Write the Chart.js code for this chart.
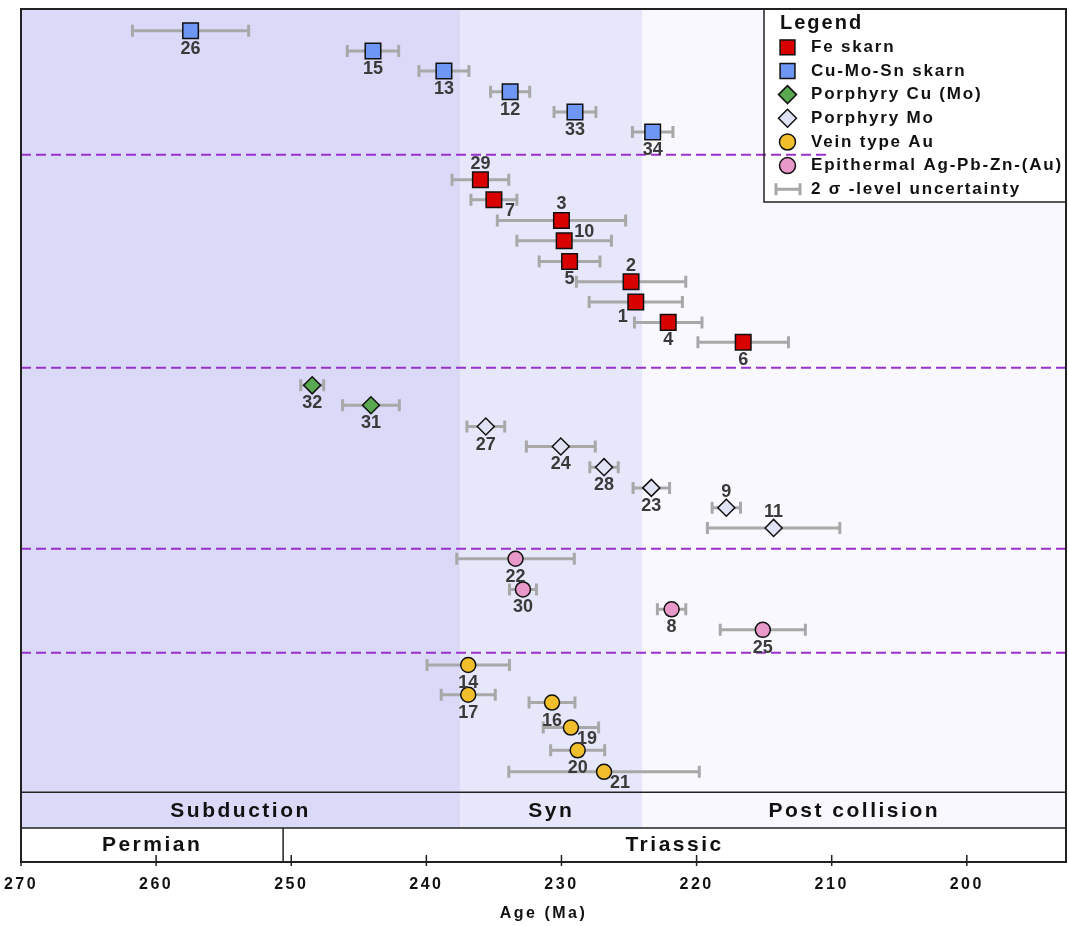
<!DOCTYPE html>
<html>
<head>
<meta charset="utf-8">
<title>Mineralization ages</title>
<script src="https://cdn.jsdelivr.net/npm/chart.js@4.4.1/dist/chart.umd.min.js"></script>
<style>
  body { margin: 0; background: #fff; }
  #wrap { width: 1069px; height: 926px; }
</style>
</head>
<body>
<div id="wrap"><canvas id="ageChart"></canvas></div>
<script>
// sample no., age (Ma), 2 sigma error, row (top -> bottom order)
const feSkarnIds  = [29, 7, 3, 10, 5, 2, 1, 4, 6];
const feSkarnAges = [236.0, 235.0, 230.0, 229.8, 229.4, 224.85, 224.5, 222.1, 216.55];
const feSkarnErrs = [2.1, 1.7, 4.75, 3.5, 2.25, 4.05, 3.45, 2.5, 3.35];
const feSkarnRows = [8.41, 9.39, 10.41, 11.41, 12.43, 13.43, 14.43, 15.43, 16.41];

const cuSkarnIds  = [26, 15, 13, 12, 33, 34];
const cuSkarnAges = [257.45, 243.95, 238.7, 233.8, 229.0, 223.25];
const cuSkarnErrs = [4.3, 1.9, 1.85, 1.45, 1.55, 1.5];
const cuSkarnRows = [1.07, 2.07, 3.05, 4.07, 5.07, 6.06];

const porCuIds  = [32, 31];
const porCuAges = [248.45, 244.1];
const porCuErrs = [0.85, 2.1];
const porCuRows = [18.53, 19.51];

const porMoIds  = [27, 24, 28, 23, 9, 11];
const porMoAges = [235.6, 230.05, 226.85, 223.35, 217.8, 214.3];
const porMoErrs = [1.4, 2.55, 1.05, 1.35, 1.05, 4.9];
const porMoRows = [20.56, 21.54, 22.56, 23.58, 24.56, 25.55];

const veinIds  = [14, 17, 16, 19, 20, 21];
const veinAges = [236.9, 236.9, 230.7, 229.3, 228.8, 226.85];
const veinErrs = [3.05, 2.0, 1.7, 2.05, 2.0, 7.05];
const veinRows = [32.3, 33.76, 34.15, 35.38, 36.5, 37.56];

const epiIds  = [22, 30, 8, 25];
const epiAges = [233.4, 232.85, 221.85, 215.1];
const epiErrs = [4.35, 1.0, 1.05, 3.15];
const epiRows = [27.07, 28.58, 29.56, 30.57];

const tickAges = [270, 260, 250, 240, 230, 220, 210, 200];
const ageMin = 192.66, ageMax = 270;

const stageNames  = ['Subduction', 'Syn', 'Post collision'];
const stageStarts = [270, 237.5, 224.0];
const periodNames  = ['Permian', 'Triassic'];
const periodStarts = [270, 250.6];

// dashed separators between deposit groups (row) and where each one stops (age)
const groupBreaks    = [7.18, 17.67, 26.58, 31.7];
const groupBreakEnds = [210.3, ageMin, ageMin, ageMin];

const rowMax = 42;
const stageRowTop = 38.56, periodRowTop = 40.33;

const FONT = '"Liberation Sans", Arial, sans-serif';
const stageFill = ['#dadaf8', '#e7e7fb', '#f8f8fe'];

// where the sample number sits relative to its marker (default below)
const labelSide = {29: 't', 3: 't', 2: 't', 9: 't', 11: 't', 7: 'br', 19: 'br', 21: 'br', 10: 'tr', 1: 'bl'};
const sideOffset = {b: [0, 18], t: [0, -16], br: [16, 11], tr: [20, -9], bl: [-13, 15]};

function makeSet(label, ids, ages, errs, rows, style, color, radius, legendRadius) {
  return {
    label: label,
    data: ids.map((id, i) => ({x: ages[i], y: rows[i], id: id, err: errs[i]})),
    pointStyle: style,
    pointRadius: radius,
    pointHoverRadius: radius,
    backgroundColor: color,
    borderColor: '#111',
    borderWidth: 1.5,
    legendRadius: legendRadius
  };
}

const datasets = [
  makeSet('Fe skarn', feSkarnIds, feSkarnAges, feSkarnErrs, feSkarnRows, 'rect', '#d90000', 11, 10.5),
  makeSet('Cu-Mo-Sn skarn', cuSkarnIds, cuSkarnAges, cuSkarnErrs, cuSkarnRows, 'rect', '#6e97f5', 11, 10.5),
  makeSet('Porphyry Cu (Mo)', porCuIds, porCuAges, porCuErrs, porCuRows, 'rectRot', '#5aa952', 8.5, 9),
  makeSet('Porphyry Mo', porMoIds, porMoAges, porMoErrs, porMoRows, 'rectRot', '#dfe3f5', 8.5, 9),
  makeSet('Vein type Au', veinIds, veinAges, veinErrs, veinRows, 'circle', '#f2bf2c', 7.5, 8),
  makeSet('Epithermal Ag-Pb-Zn-(Au)', epiIds, epiAges, epiErrs, epiRows, 'circle', '#e899c9', 7.5, 8)
];

function errorBar(ctx, x0, x1, y) {
  ctx.beginPath();
  ctx.moveTo(x0, y); ctx.lineTo(x1, y);
  ctx.moveTo(x0, y - 6); ctx.lineTo(x0, y + 6);
  ctx.moveTo(x1, y - 6); ctx.lineTo(x1, y + 6);
  ctx.stroke();
}

const backdrop = {
  id: 'backdrop',
  beforeDraw(chart) {
    chart.ctx.letterSpacing = '2.5px';   // spaced axis text like the original
  },
  beforeDatasetsDraw(chart) {
    const {ctx, chartArea: a, scales: {x, y}} = chart;
    ctx.save();
    ctx.letterSpacing = '0px';
    const bandBottom = y.getPixelForValue(periodRowTop);
    stageStarts.forEach((s, i) => {
      const x0 = x.getPixelForValue(s);
      const x1 = i + 1 < stageStarts.length ? x.getPixelForValue(stageStarts[i + 1]) : a.right;
      ctx.fillStyle = stageFill[i];
      ctx.fillRect(x0, a.top, x1 - x0, bandBottom - a.top);
    });

    // legend box background
    ctx.fillStyle = '#fff';
    ctx.fillRect(a.right - 302, a.top, 302, 193);

    ctx.strokeStyle = '#9932cc';
    ctx.lineWidth = 2;
    ctx.setLineDash([10, 5]);
    groupBreaks.forEach((r, i) => {
      const yy = y.getPixelForValue(r);
      ctx.beginPath();
      ctx.moveTo(a.left, yy);
      ctx.lineTo(x.getPixelForValue(groupBreakEnds[i]), yy);
      ctx.stroke();
    });
    ctx.setLineDash([]);

    ctx.strokeStyle = '#a8a8a8';
    ctx.lineWidth = 3;
    chart.data.datasets.forEach(ds => ds.data.forEach(p => {
      errorBar(ctx, x.getPixelForValue(p.x + p.err), x.getPixelForValue(p.x - p.err), y.getPixelForValue(p.y));
    }));
    ctx.restore();
  },
  afterDatasetsDraw(chart) {
    const {ctx, chartArea: a, scales: {x, y}} = chart;
    ctx.save();
    ctx.letterSpacing = '0px';

    // sample numbers
    ctx.font = 'bold 18px ' + FONT;
    ctx.fillStyle = '#3a3a3a';
    ctx.textAlign = 'center';
    ctx.textBaseline = 'middle';
    chart.data.datasets.forEach(ds => ds.data.forEach(p => {
      const off = sideOffset[labelSide[p.id] || 'b'];
      ctx.fillText(String(p.id), x.getPixelForValue(p.x) + off[0], y.getPixelForValue(p.y) + off[1]);
    }));

    // stage and period bands
    const yStage = y.getPixelForValue(stageRowTop);
    const yPeriod = y.getPixelForValue(periodRowTop);
    ctx.strokeStyle = '#222';
    ctx.lineWidth = 1.5;
    ctx.beginPath();
    ctx.moveTo(a.left, yStage); ctx.lineTo(a.right, yStage);
    ctx.moveTo(a.left, yPeriod); ctx.lineTo(a.right, yPeriod);
    const xPT = x.getPixelForValue(periodStarts[1]);
    ctx.moveTo(xPT, yPeriod); ctx.lineTo(xPT, a.bottom);
    ctx.stroke();

    ctx.fillStyle = '#111';
    ctx.font = 'bold 21px ' + FONT;
    ctx.letterSpacing = '2.5px';
    stageNames.forEach((name, i) => {
      const x0 = x.getPixelForValue(stageStarts[i]);
      const x1 = i + 1 < stageStarts.length ? x.getPixelForValue(stageStarts[i + 1]) : a.right;
      ctx.fillText(name, (x0 + x1) / 2, (yStage + yPeriod) / 2 + 1);
    });
    periodNames.forEach((name, i) => {
      const x0 = x.getPixelForValue(periodStarts[i]);
      const x1 = i + 1 < periodStarts.length ? x.getPixelForValue(periodStarts[i + 1]) : a.right;
      ctx.fillText(name, (x0 + x1) / 2, (yPeriod + a.bottom) / 2);
    });

    // frame and tick marks
    ctx.lineWidth = 2;
    ctx.strokeRect(a.left, a.top, a.right - a.left, a.bottom - a.top);
    ctx.lineWidth = 1.5;
    ctx.beginPath();
    tickAges.forEach(t => {
      const xx = x.getPixelForValue(t);
      ctx.moveTo(xx, a.bottom - 7); ctx.lineTo(xx, a.bottom + 4);
    });
    ctx.stroke();

    // legend
    const lx = a.right - 302, ly = a.top;
    ctx.strokeStyle = '#222';
    ctx.lineWidth = 1.5;
    ctx.strokeRect(lx, ly, 302, 193);
    ctx.textAlign = 'left';
    ctx.font = 'bold 20px ' + FONT;
    ctx.letterSpacing = '2px';
    ctx.fillText('Legend', lx + 16, ly + 14);
    ctx.font = 'bold 17px ' + FONT;
    ctx.letterSpacing = '1.8px';
    const step = 23.66;
    chart.data.datasets.forEach((ds, i) => {
      const yy = ly + 38.3 + i * step;
      ctx.fillStyle = ds.backgroundColor;
      ctx.strokeStyle = '#111';
      Chart.helpers.drawPoint(ctx, {pointStyle: ds.pointStyle, radius: ds.legendRadius, borderWidth: 1.5, rotation: 0}, lx + 23.5, yy);
      ctx.fillStyle = '#111';
      ctx.fillText(ds.label, lx + 47, yy);
    });
    const ys = ly + 38.3 + chart.data.datasets.length * step;
    ctx.strokeStyle = '#a8a8a8';
    ctx.lineWidth = 3;
    errorBar(ctx, lx + 12, lx + 36, ys);
    ctx.fillStyle = '#111';
    ctx.fillText('2 \u03c3 -level uncertainty', lx + 47, ys);
    ctx.restore();
  },
  afterDraw(chart) {
    chart.ctx.letterSpacing = '0px';
  }
};

Chart.defaults.font.family = FONT;

new Chart(document.getElementById('ageChart'), {
  type: 'scatter',
  data: {datasets: datasets},
  options: {
    responsive: true,
    maintainAspectRatio: false,
    animation: false,
    layout: {autoPadding: false, padding: {left: 21, right: 3, top: 9, bottom: 0}},
    plugins: {
      legend: {display: false},
      tooltip: {enabled: false}
    },
    scales: {
      x: {
        type: 'linear',
        reverse: true,
        min: ageMin,
        max: ageMax,
        afterBuildTicks: s => { s.ticks = tickAges.map(v => ({value: v})); },
        afterFit: s => {
          s.height = 64;
          s.paddingLeft = 0;
          s.paddingRight = 0;
          s.paddingTop = 0;
          s.paddingBottom = 0;
        },
        grid: {display: false, drawTicks: false},
        border: {display: false},
        ticks: {
          autoSkip: false,
          maxRotation: 0,
          padding: 13,
          color: '#111',
          font: {size: 16, weight: 'bold'}
        },
        title: {
          display: true,
          text: 'Age (Ma)',
          color: '#111',
          font: {size: 16, weight: 'bold'},
          padding: {top: 0, bottom: 3}
        }
      },
      y: {
        type: 'linear',
        reverse: true,
        min: 0,
        max: rowMax,
        display: false,
        afterFit: s => {
          s.width = 0;
          s.paddingTop = 0;
          s.paddingBottom = 0;
        }
      }
    }
  },
  plugins: [backdrop]
});
</script>
</body>
</html>
